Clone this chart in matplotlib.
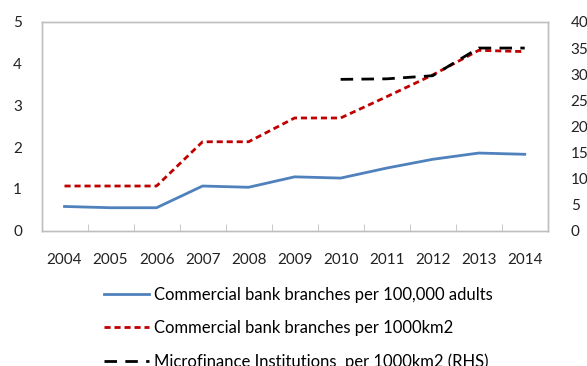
import numpy as np
import matplotlib
matplotlib.use('Agg')
import matplotlib.pyplot as plt
from matplotlib.ticker import FixedLocator

plt.rcParams['font.family'] = ['Lato', 'DejaVu Sans']

years = ['2004', '2005', '2006', '2007', '2008', '2009', '2010', '2011', '2012', '2013', '2014']
branches_adults = [0.58, 0.55, 0.55, 1.07, 1.04, 1.29, 1.26, 1.50, 1.71, 1.86, 1.83]
branches_km2 = [1.07, 1.07, 1.07, 2.13, 2.13, 2.70, 2.70, 3.21, 3.73, 4.32, 4.29]
mfi_years = ['2010', '2011', '2012', '2013', '2014']
mfi_km2 = [29.0, 29.1, 29.7, 35.0, 35.0]

x = np.arange(len(years))
x_mfi = np.array([years.index(y) for y in mfi_years])

fig = plt.figure(figsize=(5.87, 3.66), dpi=100)
ax = fig.add_axes([0.0707, 0.3697, 0.8624, 0.5703])
ax2 = ax.twinx()

l1, = ax.plot(x, branches_adults, color='#4F81BD', lw=2.0,
              label='Commercial bank branches per 100,000 adults')
l2, = ax.plot(x, branches_km2, color='#C00000', lw=2.0, dashes=(2.2, 1.4),
              label='Commercial bank branches per 1000km2')
l3, = ax2.plot(x_mfi, mfi_km2, color='black', lw=2.0, dashes=(4.5, 3.0),
               label='Microfinance Institutions  per 1000km2 (RHS)')

ax.set_xlim(-0.5, len(years) - 0.5)
ax.set_ylim(0, 5)
ax2.set_ylim(0, 40)
ax.set_yticks(range(0, 6))
ax2.set_yticks(range(0, 45, 5))

ax.set_xticks(x)
ax.set_xticklabels(years)
ax.xaxis.set_minor_locator(FixedLocator(x[:-1] + 0.5))
ax.tick_params(axis='x', which='major', length=0, pad=16, labelsize=11, colors='#222222')
ax.tick_params(axis='x', which='minor', direction='in', length=5, color='#BFBFBF')
ax.tick_params(axis='y', length=0, pad=14, labelsize=11, labelcolor='#222222')
ax2.tick_params(axis='y', length=0, pad=16.5, labelsize=11, labelcolor='#222222')

for a in (ax, ax2):
    for s in a.spines.values():
        s.set_color('#BFBFBF')
        s.set_linewidth(1.0)
ax2.spines['right'].set_visible(True)

fig.legend(handles=[l1, l2, l3], loc='upper left', bbox_to_anchor=(0.178, 0.216),
           frameon=False, fontsize=12, handlelength=2.7, handletextpad=0.25,
           labelspacing=1.04, borderaxespad=0, borderpad=0)

fig.savefig('out.png', dpi=100)
